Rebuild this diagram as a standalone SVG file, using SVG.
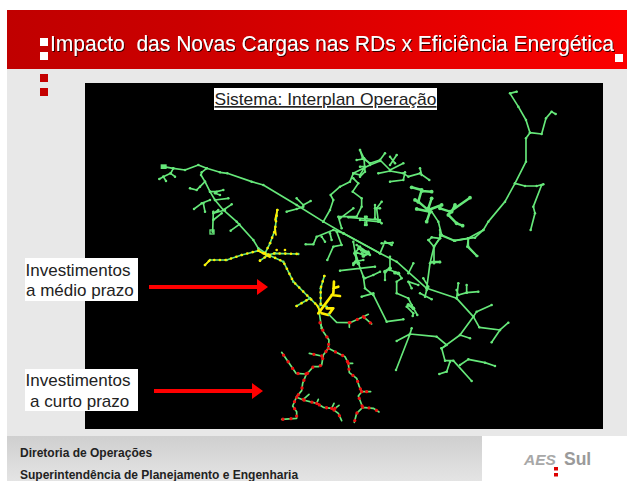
<svg xmlns="http://www.w3.org/2000/svg" width="627" height="481" viewBox="0 0 627 481">
<style>
text{font-family:"Liberation Sans",Arial,sans-serif}
.l{font-size:17px;fill:#222}
.g path{fill:none;stroke:#66e87a;stroke-width:5;stroke-linecap:round;stroke-linejoin:round;marker:url(#d)}
.g .t{stroke-width:7.5}
.y path{fill:none;stroke:#ffee00;stroke-linejoin:round;stroke-linecap:round}
.yd{fill:none;stroke:#ffee00;stroke-width:8;stroke-linecap:round;stroke-dasharray:0 17}
.r{fill:none;stroke:#66e87a;stroke-width:5;stroke-linecap:round;stroke-linejoin:round}
.rd{fill:none;stroke:#ee1111;stroke-width:10;stroke-linecap:round;stroke-dasharray:0 24}
.f{font-size:12px;font-weight:bold;fill:#222}
</style>
<defs>
<linearGradient id="band" x1="0" x2="1" y1="0" y2="0"><stop offset="0" stop-color="#c00000"/><stop offset="0.3" stop-color="#cc0000"/><stop offset="1" stop-color="#fb0000"/></linearGradient>
<linearGradient id="foot" x1="0" x2="0" y1="0" y2="1"><stop offset="0" stop-color="#cfcfcf"/><stop offset="1" stop-color="#e4e4e4"/></linearGradient>
<filter id="sh" x="-2%" y="-20%" width="104%" height="140%"><feDropShadow dx="1" dy="1" stdDeviation="0.3" flood-color="#300"/></filter>
<marker id="d" markerWidth="3" markerHeight="3" refX="1.5" refY="1.5" viewBox="0 0 3 3"><circle cx="1.5" cy="1.5" r="0.75" fill="#66e87a"/></marker>
</defs>
<rect width="627" height="481" fill="#fff"/>
<rect x="7" y="69" width="620" height="367" fill="#e8e8e8"/>
<rect x="7" y="10" width="620" height="59" fill="url(#band)"/>
<rect x="7" y="436" width="475" height="45" fill="url(#foot)"/>
<g id="bullets">
<rect x="40" y="38" width="8" height="8" fill="#fff"/><rect x="40" y="52" width="8" height="8" fill="#fff"/><rect x="615" y="54" width="8" height="8" fill="#fff"/>
<rect x="40" y="74" width="8" height="8" fill="#c40000"/><rect x="40" y="88" width="8" height="8" fill="#c40000"/>
</g>
<text id="title" transform="translate(50,51) scale(.934,1)" font-size="22.5" fill="#fff" filter="url(#sh)" xml:space="preserve">Impacto  das Novas Cargas nas RDs x Eficiência Energética</text>
<rect x="85" y="83" width="518" height="346" fill="#000"/>
<g id="subtitle"><rect x="214" y="88" width="223" height="22" fill="#fff"/><text x="214.5" y="105" class="l" text-decoration="underline" fill="#000" textLength="222" lengthAdjust="spacingAndGlyphs">Sistema: Interplan Operação</text></g>

<g id="network">
<g class="g" transform="translate(140,85) scale(.3333)">
<rect x="62" y="238" width="18" height="14" fill="#66e87a"/>
<rect x="210" y="435" width="12" height="12" fill="none" stroke="#66e87a" stroke-width="4"/>
<path d="M70 245L100 250L135 255L175 240L200 250L240 262L262 265L335 290L370 300L470 360L550 410L610 445L720 505"/>
<path d="M100 250L92 265L70 275L58 282M70 275L78 288M92 265L105 275"/>
<path d="M200 250L185 262L183 270L195 290L210 320L225 345L250 375L290 410L340 465L355 490L385 510"/>
<path d="M195 290L180 305L170 315L150 310M210 320L230 320L250 315M225 325L240 330M225 345L265 340M210 345L185 355L162 372M190 355L195 380M250 375L275 358M255 375L220 385L235 375M220 380L218 440M245 385L220 405M298 418L272 437"/>
<path d="M470 340L490 360L512 348M440 380L470 372L490 365M550 410L570 375L580 345L572 330L600 305L630 290L640 265L690 240L720 228M660 195L668 220L690 235M650 225L670 222M640 265L660 270L672 250M640 280L655 295L638 320L665 340L665 365L650 395L595 395L605 430M640 370L600 400M625 397L720 405M680 395L680 420M705 360L705 400L720 410M610 445L580 435L530 455L520 478L497 478M545 455L555 470M570 445L575 465M590 440L605 480L580 485L562 525M640 470L650 530L640 540M650 480L680 500M645 500L670 510"/>
</g>
<g class="g" transform="translate(360,85) scale(.3333)">
<path d="M470 20L450 25L475 65L498 105L510 143L498 160L498 230L465 295L435 350L385 410L370 435L345 458L325 460L285 467L245 450L235 410L215 380M510 143L545 147L558 100L575 80L587 87M465 295L495 303L530 303L550 298M545 300L520 365L525 385L512 435M325 460L325 485L352 513M245 450L222 485L222 535M207 465L215 457L240 460M215 532L240 532"/>
<path class="t" d="M210 380L175 350L165 345M175 350L185 315L155 307M185 318L215 320M210 380L170 372M210 380L200 410M205 375L245 360M240 370L270 380L330 338M285 360L275 380L265 390L290 415L308 422M215 340L205 370"/>
<path d="M0 195L12 220L30 235L60 225L75 205M60 225L90 255L130 235M90 240L110 210M90 215L105 235M55 265L90 258L130 265L145 275L180 265L208 285M180 250L185 270M90 290L130 285L135 262M12 220L15 260L0 275M0 245L15 245"/>
<path d="M65 350L50 370L55 410L0 405M45 370L60 370M55 405L65 415M15 395L15 420"/>
</g>
<g class="g" transform="translate(330,230) scale(.3333)">
<path d="M40 10L150 70L200 95L290 175L380 205L430 260L390 315L335 355"/>
<path d="M150 70L165 35L185 45M155 40L188 38"/>
<path d="M180 80L180 115L165 125L165 150M180 120L205 130L215 145L200 155L200 190L235 205L245 225L262 255M230 230L250 250L248 258M235 130L250 100M265 165L235 155L245 175"/>
<path class="t" d="M165 125L180 115M235 225L250 235M205 130L195 128M75 70L85 100M95 60L115 70L100 78"/>
<path d="M90 50L75 70L85 100L100 140L105 175L130 195L170 275L220 268M130 190L95 200M105 145L130 135L150 125M30 122L135 110M75 95L100 90M85 55L120 75M95 70L115 65M80 90L70 100"/>
<path d="M290 175L300 100L312 50L330 25L330 0M312 50L295 30M310 95L330 95M280 145L295 170M270 190L305 208M290 180L285 200"/>
<path d="M330 15L372 32L415 25L460 0M415 25L412 50L440 78M380 205L385 160M380 180L385 195L410 188L445 185M410 165L410 188"/>
<path d="M430 260L440 245L485 225M430 260L448 292L510 300L535 278M510 300L485 337M390 315L420 325M335 355L350 345L320 320L240 312L200 333M245 295L240 312L198 420M335 355L345 392L370 392L425 453M360 395L350 425L328 432M390 405L415 388L465 398L495 408"/>
</g>
<g class="g" transform="translate(190,200) scale(.3333)">
<path d="M225 160L280 185L310 245L360 295L385 320L395 385M320 318L360 295M403 228L392 265L392 315L410 320"/>
<path d="M262 30L255 90L240 130L225 160"/>
<path d="M45 195L60 180L110 180L155 165L205 152L230 165L255 160L325 162M210 182L235 165"/>
</g>
<g transform="translate(190,200) scale(.3333)">
<g class="y">
<path style="stroke-width:5" d="M262 30L255 60M255 85L258 105M60 180L45 195M205 152L240 172M380 315L395 340"/>
<path style="stroke-width:8" d="M432 245L430 280L400 320L385 340M430 265L445 260M425 285L450 288M410 325L430 325L415 345L395 340"/>
</g>
<path class="yd" d="M262 30L255 90L240 130L225 160L280 185L310 245L360 295L385 320"/>
<path class="yd" d="M45 195L60 180L110 180L155 165L205 152L230 165L255 160L325 162"/>
<path class="yd" d="M210 182L235 165M260 150L265 165M285 150L285 162M320 318L360 295M403 228L392 265L392 315"/>
</g>
<g transform="translate(260,300) scale(.3333)">
<path id="red1" class="r" d="M180 68L190 95L207 120L205 145L190 165L185 195L175 200L160 200L138 225L128 250L125 272L110 290L98 318L110 335L110 355L65 358M185 168L148 160"/>
<path class="r" d="M205 145L255 170L265 190L268 218L290 235L298 260L305 275L332 275M305 275L295 288L308 322L340 325L357 336M308 322L290 340L283 367M265 190L278 190"/>
<path class="r" d="M138 222L108 220L65 157M110 292L130 300L170 310L190 322L215 325L235 340L245 362M130 298L147 283M215 325L222 310M225 325L237 316M170 310L175 298"/>
<path class="r" d="M205 42L230 67L270 68L310 50L335 72M310 50L325 43M268 68L268 82"/>
<path class="rd" d="M180 68L190 95L207 120L205 145L190 165L185 195L175 200L160 200L138 225L128 250L125 272L110 290L98 318L110 335L110 355L65 358M185 168L148 160"/>
<path class="rd" d="M205 145L255 170L265 190L268 218L290 235L298 260L305 275L332 275M305 275L295 288L308 322L340 325L357 336M308 322L290 340L283 367M265 190L278 190"/>
<path class="rd" d="M138 222L108 220L65 157M110 292L130 300L170 310L190 322L215 325L235 340L245 362M130 298L147 283M215 325L222 310M225 325L237 316M170 310L175 298"/>
<path class="rd" d="M270 68L310 50L335 72M310 50L325 43M268 68L268 82"/>
</g>
</g>

<g id="label-medio">
<rect x="25" y="258" width="113" height="43" fill="#fff"/>
<text x="25.5" y="276" class="l">Investimentos</text><text x="26" y="296" class="l">a médio prazo</text>
</g>
<g id="label-curto">
<rect x="25" y="369" width="113" height="42" fill="#fff"/>
<text x="25.5" y="386" class="l">Investimentos</text><text x="30" y="407" class="l">a curto prazo</text>
</g>
<g id="arrows" fill="#ff0000">
<path d="M149 285H257V279L268 287L257 295V289H149Z"/>
<path d="M154 389H252V383L263 391L252 399V393H154Z"/>
</g>
<g id="footer">
<text x="20" y="457" class="f">Diretoria de Operações</text>
<text x="20" y="479" class="f">Superintendência de Planejamento e Engenharia</text>
</g>
<g id="logo">
<text x="524" y="465" font-size="15.5" font-weight="bold" font-style="italic" fill="#a8a8a8">AES</text>
<text x="564" y="465" font-size="17.5" font-weight="bold" fill="#9a9a9a">Sul</text>
<rect x="554" y="467" width="4" height="3.5" fill="#dd0000"/><rect x="554" y="473" width="4" height="3.5" fill="#dd0000"/>
</g>
</svg>
